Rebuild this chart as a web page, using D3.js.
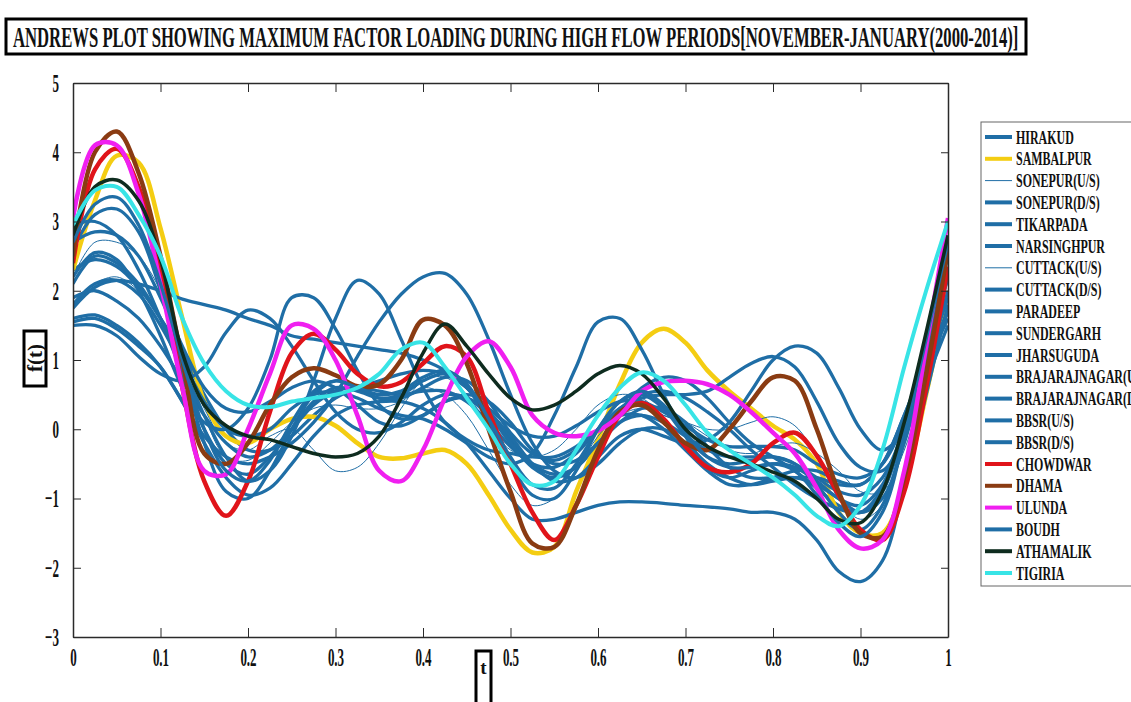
<!DOCTYPE html>
<html>
<head>
<meta charset="utf-8">
<script src="https://cdn.jsdelivr.net/npm/d3@7"></script>
<style>
  body { margin: 0; background: #fff; }
  text { font-family: "Liberation Serif", "Times New Roman", serif; font-weight: bold; fill: #111; }
</style>
</head>
<body>
<div id="chart"></div>
<script>

// sample positions of t and the curve values
var tValues = [0, 0.025, 0.05, 0.075, 0.1, 0.125, 0.15, 0.175, 0.2, 0.225, 0.25, 0.275, 0.3, 0.325, 0.35, 0.375, 0.4, 0.425, 0.45, 0.475, 0.5,
  0.525, 0.55, 0.575, 0.6, 0.625, 0.65, 0.675, 0.7, 0.725, 0.75, 0.775, 0.8, 0.825, 0.85, 0.875, 0.9, 0.925, 0.95, 0.975, 1]

var hirakud = [2.3,2.45,2.35,2.05,1.6,1.1,0.5,0.0,-0.3,-0.3,-0.1,0.2,0.45,0.6,0.7,0.8,0.85,0.8,0.6,0.25,-0.15,-0.5,-0.65,-0.55,-0.2,0.25,0.6,0.75,0.7,0.45,0.1,-0.2,-0.4,-0.6,-0.85,-1.1,-1.2,-0.9,0.0,1.1,2.3]
var sambalpur = [2.3,3.3,3.95,3.85,2.9,1.6,0.4,-0.1,-0.2,0.0,0.15,0.18,0.05,-0.2,-0.4,-0.42,-0.35,-0.3,-0.5,-0.95,-1.45,-1.78,-1.7,-0.9,-0.15,0.65,1.25,1.45,1.25,0.85,0.55,0.3,0.05,-0.15,-0.5,-1.2,-1.5,-1.5,-0.8,0.5,2.0]
var sonepurUS = [2.2,2.7,2.7,2.5,2.0,1.2,0.2,-0.4,-0.45,-0.2,0.1,0.3,0.35,0.3,0.3,0.4,0.6,0.5,0.2,-0.3,-0.8,-1.1,-1.0,-0.6,-0.1,0.2,0.3,0.2,0.1,0.0,0.0,0.1,0.18,0.05,-0.4,-1.0,-1.3,-1.1,-0.2,1.0,2.3]
var sonepurDS = [2.6,3.1,3.18,2.85,2.0,0.9,-0.2,-0.9,-1.0,-0.6,0.0,0.5,0.7,0.6,0.45,0.5,0.7,0.8,0.6,0.1,-0.5,-0.95,-1.0,-0.6,0.0,0.4,0.5,0.3,-0.1,-0.4,-0.5,-0.45,-0.4,-0.5,-0.8,-1.2,-1.45,-1.1,-0.1,1.2,2.5]
var tikarpada = [1.75,2.05,2.15,2.1,2.0,1.88,1.8,1.72,1.6,1.5,1.35,1.3,1.25,1.2,1.15,1.1,1.0,0.85,0.6,0.3,0.05,-0.1,-0.1,0.05,0.25,0.4,0.4,0.25,0.05,-0.15,-0.25,-0.25,-0.25,-0.3,-0.5,-0.65,-0.7,-0.5,0.1,0.9,1.6]
var narsinghpur = [1.6,1.65,1.5,1.25,0.9,0.4,-0.1,-0.4,-0.5,-0.4,-0.2,0.1,0.5,1.05,1.55,1.95,2.2,2.25,1.95,1.3,0.5,-0.2,-0.6,-0.7,-0.5,-0.2,0.0,0.0,-0.2,-0.5,-0.7,-0.8,-0.75,-0.7,-0.7,-0.8,-0.8,-0.5,0.2,1.0,1.7]
var cuttackUS = [1.8,2.1,2.2,2.0,1.6,1.0,0.3,-0.2,-0.3,-0.1,0.0,-0.3,-0.6,-0.55,-0.2,0.3,0.7,0.75,0.5,0.05,-0.3,-0.4,-0.3,0.0,0.35,0.5,0.45,0.2,0.1,-0.1,-0.3,-0.35,-0.25,-0.2,-0.35,-0.6,-0.9,-0.9,-0.3,0.8,2.0]
var cuttackDS = [2.1,2.5,2.4,2.1,1.6,1.0,0.4,0.0,-0.1,0.0,0.3,0.5,0.55,0.45,0.3,0.2,0.15,0.0,-0.2,-0.4,-0.5,-0.35,0.2,0.9,1.55,1.6,1.15,0.5,-0.1,-0.55,-0.7,-0.6,-0.5,-0.55,-0.75,-1.0,-1.1,-0.8,0.0,1.1,2.2]
var paradeep = [1.55,1.6,1.45,1.2,0.9,0.4,-0.2,-0.7,-0.95,-0.85,-0.5,-0.1,0.2,0.35,0.4,0.4,0.3,0.1,-0.2,-0.6,-1.0,-1.3,-1.3,-1.2,-1.1,-1.05,-1.05,-1.07,-1.1,-1.12,-1.15,-1.2,-1.2,-1.3,-1.6,-2.05,-2.2,-1.9,-0.8,0.5,1.8]
var sundergarh = [2.7,2.85,2.8,2.5,1.9,1.2,0.6,0.3,0.25,0.4,0.6,0.7,0.6,0.35,0.1,0.05,0.2,0.4,0.45,0.25,-0.1,-0.5,-0.75,-0.7,-0.4,-0.1,0.0,-0.1,-0.2,-0.15,0.1,0.55,1.0,1.2,1.1,0.6,0.0,-0.3,0.0,0.9,2.0]
var jharsuguda = [1.9,2.0,1.85,1.6,1.2,0.7,0.2,-0.2,-0.4,-0.3,0.0,0.35,0.55,0.6,0.55,0.5,0.55,0.55,0.4,0.1,-0.25,-0.5,-0.55,-0.35,0.0,0.3,0.45,0.5,0.5,0.55,0.75,0.95,1.05,0.9,0.4,-0.2,-0.55,-0.6,-0.1,0.7,1.5]
var brajUS = [2.2,2.55,2.45,2.0,1.35,0.6,0.1,0.0,0.3,1.0,1.9,1.9,1.45,0.85,0.35,0.15,0.2,0.4,0.5,0.4,0.1,-0.3,-0.5,-0.45,-0.2,0.1,0.3,0.3,0.1,-0.25,-0.55,-0.7,-0.7,-0.7,-0.8,-1.0,-1.2,-1.0,-0.2,1.0,2.2]
var brajDS = [1.5,1.5,1.35,1.05,0.8,0.7,0.9,1.4,1.72,1.6,1.2,0.7,0.25,0.0,-0.05,0.1,0.35,0.5,0.45,0.2,-0.2,-0.55,-0.7,-0.55,-0.2,0.1,0.2,0.1,-0.1,-0.3,-0.4,-0.4,-0.4,-0.5,-0.7,-0.9,-0.95,-0.7,0.0,0.9,1.7]
var bbsrUS = [2.95,3.0,2.8,2.3,1.6,0.8,0.0,-0.5,-0.65,-0.4,0.0,0.4,0.6,0.55,0.45,0.45,0.6,0.75,0.7,0.4,-0.05,-0.35,-0.45,-0.3,0.0,0.3,0.5,0.55,0.45,0.25,0.0,-0.3,-0.55,-0.8,-1.0,-1.15,-1.2,-0.85,0.1,1.3,2.6]
var bbsrDS = [1.8,2.1,2.15,1.95,1.5,0.9,0.2,-0.4,-0.75,-0.6,-0.1,0.7,1.6,2.15,1.95,1.3,0.6,0.1,-0.15,-0.3,-0.35,-0.4,-0.4,-0.25,0.0,0.2,0.2,0.0,-0.3,-0.6,-0.8,-0.8,-0.7,-0.6,-0.6,-0.75,-0.8,-0.5,0.2,1.0,1.9]
var chowdwar = [2.4,3.75,4.05,3.5,2.3,0.6,-0.75,-1.25,-0.75,0.25,1.1,1.38,1.15,0.8,0.62,0.68,0.95,1.2,1.05,0.25,-0.5,-1.2,-1.6,-1.1,-0.4,0.2,0.38,0.15,-0.25,-0.55,-0.62,-0.5,-0.2,-0.05,-0.38,-0.95,-1.45,-1.6,-0.9,0.6,2.35]
var dhama = [2.5,4.0,4.3,3.7,2.5,1.0,-0.35,-0.5,-0.2,0.35,0.75,0.88,0.78,0.62,0.65,1.0,1.58,1.5,0.95,0.0,-0.9,-1.65,-1.7,-1.1,-0.3,0.25,0.35,0.1,-0.2,-0.3,0.0,0.4,0.75,0.7,0.0,-0.9,-1.5,-1.55,-0.7,0.8,2.6]
var ulunda = [3.05,4.1,4.1,3.4,2.1,0.6,-0.6,-0.65,0.0,0.8,1.5,1.45,1.0,0.2,-0.6,-0.75,-0.3,0.45,1.05,1.27,0.9,0.2,-0.05,-0.1,-0.02,0.2,0.55,0.68,0.7,0.65,0.5,0.25,-0.05,-0.35,-0.85,-1.45,-1.72,-1.6,-0.6,1.2,3.05]
var boudh = [2.7,3.25,3.35,2.95,2.1,1.0,0.0,-0.6,-0.75,-0.45,0.1,0.55,0.7,0.6,0.5,0.55,0.75,0.85,0.65,0.15,-0.4,-0.8,-0.85,-0.5,0.0,0.4,0.55,0.35,-0.05,-0.4,-0.55,-0.55,-0.5,-0.6,-0.95,-1.35,-1.55,-1.2,-0.1,1.3,2.7]
var athamalik = [2.8,3.5,3.6,3.3,2.45,1.1,0.35,0.05,-0.1,-0.15,-0.25,-0.35,-0.4,-0.35,-0.1,0.45,1.1,1.52,1.2,0.8,0.45,0.28,0.35,0.55,0.8,0.92,0.8,0.45,0.0,-0.25,-0.4,-0.5,-0.62,-0.75,-1.0,-1.3,-1.35,-0.9,0.1,1.4,2.8]
var tigiria = [2.95,3.45,3.5,3.1,2.5,1.6,0.95,0.55,0.35,0.32,0.4,0.45,0.5,0.6,0.8,1.15,1.25,0.9,0.45,0.0,-0.5,-0.8,-0.75,-0.3,0.2,0.6,0.82,0.7,0.35,-0.05,-0.3,-0.5,-0.7,-0.95,-1.25,-1.4,-1.1,-0.3,0.9,2.0,3.0]

var stationNames = ["HIRAKUD", "SAMBALPUR", "SONEPUR(U/S)", "SONEPUR(D/S)", "TIKARPADA", "NARSINGHPUR", "CUTTACK(U/S)",
  "CUTTACK(D/S)", "PARADEEP", "SUNDERGARH", "JHARSUGUDA", "BRAJARAJNAGAR(U/S)", "BRAJARAJNAGAR(D/S)", "BBSR(U/S)",
  "BBSR(D/S)", "CHOWDWAR", "DHAMA", "ULUNDA", "BOUDH", "ATHAMALIK", "TIGIRIA"]
var stationValues = [hirakud, sambalpur, sonepurUS, sonepurDS, tikarpada, narsinghpur, cuttackUS, cuttackDS, paradeep,
  sundergarh, jharsuguda, brajUS, brajDS, bbsrUS, bbsrDS, chowdwar, dhama, ulunda, boudh, athamalik, tigiria]

var xTicks = [0, 0.1, 0.2, 0.3, 0.4, 0.5, 0.6, 0.7, 0.8, 0.9, 1]
var yTicks = [-3, -2, -1, 0, 1, 2, 3, 4, 5]

var blue = "#1f6ea6"
var stationColors = [blue, "#f4cd12", blue, blue, blue, blue, blue, blue, blue, blue, blue, blue, blue, blue, blue,
  "#e0141a", "#8a3b12", "#f01ff0", blue, "#0e2c1f", "#38e4e6"]
var stationWidths = [3.3, 4.5, 1, 3.3, 3.3, 3.3, 1, 3.3, 3.3, 3.3, 3.3, 3.3, 3.3, 3.3, 3.3, 4.5, 4.5, 4.5, 3.3, 3.5, 4]

var width = 1131,
    height = 702

var svg = d3.select("#chart")
  .append("svg")
    .attr("width", width)
    .attr("height", height)

var x = d3.scaleLinear().domain([0, 1]).range([73, 948])
var y = d3.scaleLinear().domain([-3, 5]).range([637, 83])

svg.append("clipPath").attr("id", "plotclip")
  .append("rect")
    .attr("x", x(0)).attr("y", y(5))
    .attr("width", x(1) - x(0)).attr("height", y(-3) - y(5))

// curves
var line = d3.line()
  .x(function(d) { return x(d.t) })
  .y(function(d) { return y(d.v) })
  .curve(d3.curveCatmullRom.alpha(0.5))

var series = stationNames.map(function(name, i) {
  return {
    name: name,
    color: stationColors[i],
    width: stationWidths[i],
    points: tValues.map(function(t, j) { return {t: t, v: stationValues[i][j]} })
  }
})

svg.append("g")
    .attr("clip-path", "url(#plotclip)")
  .selectAll("path")
  .data(series)
  .enter()
  .append("path")
    .attr("d", function(d) { return line(d.points) })
    .attr("fill", "none")
    .attr("stroke", function(d) { return d.color })
    .attr("stroke-width", function(d) { return d.width })
    .attr("stroke-linejoin", "round")

// axes, MATLAB style box with inward ticks
var xAxis = svg.append("g")
    .attr("transform", "translate(0," + y(-3) + ")")
    .call(d3.axisBottom(x).tickValues(xTicks).tickSizeInner(-9).tickSizeOuter(0).tickPadding(11)
      .tickFormat(function(d) { return d3.format("")(d) }))
svg.append("g")
    .attr("transform", "translate(0," + y(5) + ")")
    .call(d3.axisTop(x).tickValues(xTicks).tickSizeInner(-9).tickSizeOuter(0).tickFormat(""))
var yAxis = svg.append("g")
    .attr("transform", "translate(" + x(0) + ",0)")
    .call(d3.axisLeft(y).tickValues(yTicks).tickSizeInner(-8).tickSizeOuter(0).tickPadding(14))
svg.append("g")
    .attr("transform", "translate(" + x(1) + ",0)")
    .call(d3.axisRight(y).tickValues(yTicks).tickSizeInner(-7).tickSizeOuter(0).tickFormat(""))

svg.selectAll(".domain").attr("stroke", "#2a2a2a").attr("stroke-width", 1.5)
svg.selectAll(".tick line").attr("stroke", "#2a2a2a").attr("stroke-width", 1)

xAxis.selectAll("text")
    .attr("font-size", 26)
    .attr("font-family", "Liberation Serif")
    .attr("font-weight", "bold")
    .attr("fill", "#111")
    .attr("transform", "scale(0.5,1)")
yAxis.selectAll("text")
    .attr("font-size", 26)
    .attr("font-family", "Liberation Serif")
    .attr("font-weight", "bold")
    .attr("fill", "#111")
    .attr("x", -28)
    .attr("transform", "scale(0.5,1)")

// title in a box, squeezed to the box width
svg.append("rect")
    .attr("x", 6).attr("y", 19).attr("width", 1020).attr("height", 35)
    .attr("fill", "none").attr("stroke", "#000").attr("stroke-width", 3)
var title = svg.append("text")
    .attr("font-size", 29)
    .text("ANDREWS PLOT SHOWING MAXIMUM FACTOR LOADING DURING HIGH FLOW PERIODS[NOVEMBER-JANUARY(2000-2014)]")
var titleScale = 1006 / title.node().getComputedTextLength()
title.attr("transform", "translate(13,47) scale(" + titleScale + ",1)")

// y label
svg.append("rect")
    .attr("x", 24).attr("y", 331).attr("width", 22).attr("height", 55)
    .attr("fill", "none").attr("stroke", "#000").attr("stroke-width", 3)
svg.append("text")
    .attr("transform", "translate(42,358) rotate(-90)")
    .attr("text-anchor", "middle")
    .attr("font-size", 21)
    .text("f(t)")

// x label
svg.append("rect")
    .attr("x", 476).attr("y", 651).attr("width", 15).attr("height", 55)
    .attr("fill", "none").attr("stroke", "#000").attr("stroke-width", 3)
svg.append("text")
    .attr("x", 483.5).attr("y", 674)
    .attr("text-anchor", "middle")
    .attr("font-size", 19)
    .attr("font-weight", "normal")
    .text("t")

// legend (runs past the right edge, as in the original figure)
svg.append("rect")
    .attr("x", 981).attr("y", 122).attr("width", 200).attr("height", 464)
    .attr("fill", "#fff").attr("stroke", "#666").attr("stroke-width", 1)
var entry = svg.selectAll(".legend-entry")
  .data(series)
  .enter()
  .append("g")
    .attr("class", "legend-entry")
    .attr("transform", function(d, i) { return "translate(985," + (137 + i * 21.8) + ")" })
entry.append("line")
    .attr("x1", 0).attr("x2", 27).attr("y1", 0).attr("y2", 0)
    .attr("stroke", function(d) { return d.color })
    .attr("stroke-width", function(d) { return d.width < 2 ? 1 : 4 })
entry.append("text")
    .attr("transform", "translate(31,6.5) scale(0.63,1)")
    .attr("font-size", 19)
    .text(function(d) { return d.name })

</script>
</body>
</html>
